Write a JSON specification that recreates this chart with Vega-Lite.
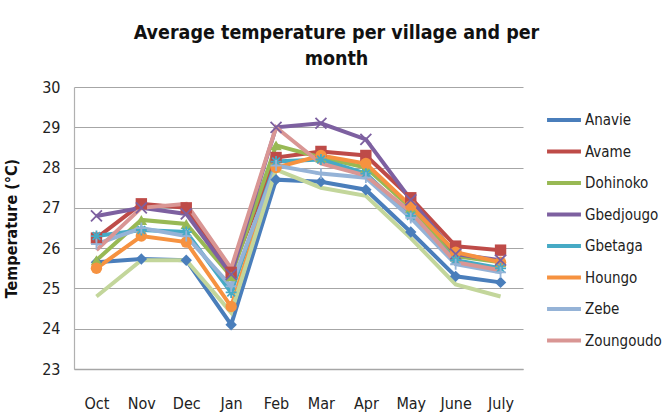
{
  "$schema": "https://vega.github.io/schema/vega-lite/v6.json",
  "autosize": {"type": "none"},
  "width": 449,
  "height": 282,
  "padding": {"left": 74, "top": 87, "right": 147, "bottom": 49},
  "background": "white",
  "title": {
    "text": ["Average temperature per village and per", "month"],
    "font": "DejaVu Sans Condensed, sans-serif",
    "fontSize": 19.5,
    "fontWeight": "bold",
    "color": "#111111",
    "lineHeight": 26,
    "anchor": "middle",
    "baseline": "bottom",
    "offset": -9,
    "dx": 38
  },
  "config": {
    "view": {"stroke": null},
    "font": "DejaVu Sans Condensed, sans-serif"
  },
  "data": {
    "values": [
      {"m":"Oct","v":"Anavie","t":25.65},{"m":"Nov","v":"Anavie","t":25.73},{"m":"Dec","v":"Anavie","t":25.7},{"m":"Jan","v":"Anavie","t":24.1},{"m":"Feb","v":"Anavie","t":27.7},{"m":"Mar","v":"Anavie","t":27.65},{"m":"Apr","v":"Anavie","t":27.45},{"m":"May","v":"Anavie","t":26.4},{"m":"June","v":"Anavie","t":25.3},{"m":"July","v":"Anavie","t":25.15},
      {"m":"Oct","v":"Avame","t":26.25},{"m":"Nov","v":"Avame","t":27.1},{"m":"Dec","v":"Avame","t":27.0},{"m":"Jan","v":"Avame","t":25.4},{"m":"Feb","v":"Avame","t":28.25},{"m":"Mar","v":"Avame","t":28.4},{"m":"Apr","v":"Avame","t":28.3},{"m":"May","v":"Avame","t":27.25},{"m":"June","v":"Avame","t":26.05},{"m":"July","v":"Avame","t":25.95},
      {"m":"Oct","v":"Dohinoko","t":25.7},{"m":"Nov","v":"Dohinoko","t":26.7},{"m":"Dec","v":"Dohinoko","t":26.6},{"m":"Jan","v":"Dohinoko","t":25.3},{"m":"Feb","v":"Dohinoko","t":28.55},{"m":"Mar","v":"Dohinoko","t":28.25},{"m":"Apr","v":"Dohinoko","t":28.0},{"m":"May","v":"Dohinoko","t":27.0},{"m":"June","v":"Dohinoko","t":25.8},{"m":"July","v":"Dohinoko","t":25.65},
      {"m":"Oct","v":"Gbedjougo","t":26.8},{"m":"Nov","v":"Gbedjougo","t":27.0},{"m":"Dec","v":"Gbedjougo","t":26.85},{"m":"Jan","v":"Gbedjougo","t":25.35},{"m":"Feb","v":"Gbedjougo","t":29.0},{"m":"Mar","v":"Gbedjougo","t":29.1},{"m":"Apr","v":"Gbedjougo","t":28.7},{"m":"May","v":"Gbedjougo","t":27.2},{"m":"June","v":"Gbedjougo","t":25.85},{"m":"July","v":"Gbedjougo","t":25.7},
      {"m":"Oct","v":"Gbetaga","t":26.3},{"m":"Nov","v":"Gbetaga","t":26.45},{"m":"Dec","v":"Gbetaga","t":26.4},{"m":"Jan","v":"Gbetaga","t":24.9},{"m":"Feb","v":"Gbetaga","t":28.15},{"m":"Mar","v":"Gbetaga","t":28.2},{"m":"Apr","v":"Gbetaga","t":27.85},{"m":"May","v":"Gbetaga","t":26.8},{"m":"June","v":"Gbetaga","t":25.7},{"m":"July","v":"Gbetaga","t":25.5},
      {"m":"Oct","v":"Houngo","t":25.5},{"m":"Nov","v":"Houngo","t":26.3},{"m":"Dec","v":"Houngo","t":26.15},{"m":"Jan","v":"Houngo","t":24.55},{"m":"Feb","v":"Houngo","t":28.0},{"m":"Mar","v":"Houngo","t":28.3},{"m":"Apr","v":"Houngo","t":28.1},{"m":"May","v":"Houngo","t":27.05},{"m":"June","v":"Houngo","t":25.9},{"m":"July","v":"Houngo","t":25.65},
      {"m":"Oct","v":"Zebe","t":26.1},{"m":"Nov","v":"Zebe","t":26.5},{"m":"Dec","v":"Zebe","t":26.3},{"m":"Jan","v":"Zebe","t":25.05},{"m":"Feb","v":"Zebe","t":28.05},{"m":"Mar","v":"Zebe","t":27.85},{"m":"Apr","v":"Zebe","t":27.75},{"m":"May","v":"Zebe","t":26.75},{"m":"June","v":"Zebe","t":25.6},{"m":"July","v":"Zebe","t":25.4},
      {"m":"Oct","v":"Zoungoudo","t":25.95},{"m":"Nov","v":"Zoungoudo","t":27.0},{"m":"Dec","v":"Zoungoudo","t":27.1},{"m":"Jan","v":"Zoungoudo","t":25.5},{"m":"Feb","v":"Zoungoudo","t":29.0},{"m":"Mar","v":"Zoungoudo","t":28.1},{"m":"Apr","v":"Zoungoudo","t":27.8},{"m":"May","v":"Zoungoudo","t":26.9},{"m":"June","v":"Zoungoudo","t":25.65},{"m":"July","v":"Zoungoudo","t":25.45},
      {"m":"Oct","v":"Series 9","t":24.8},{"m":"Nov","v":"Series 9","t":25.7},{"m":"Dec","v":"Series 9","t":25.7},{"m":"Jan","v":"Series 9","t":24.4},{"m":"Feb","v":"Series 9","t":27.95},{"m":"Mar","v":"Series 9","t":27.5},{"m":"Apr","v":"Series 9","t":27.3},{"m":"May","v":"Series 9","t":26.25},{"m":"June","v":"Series 9","t":25.1},{"m":"July","v":"Series 9","t":24.8}
    ]
  },
  "encoding": {
    "x": {
      "field": "m", "type": "nominal", "sort": null,
      "scale": {"type": "point", "padding": 0.5,
        "domain": ["Oct","Nov","Dec","Jan","Feb","Mar","Apr","May","June","July"]},
      "axis": {"title": null, "labelAngle": 0, "labelFontSize": 16, "labelColor": "#222222",
        "labelPadding": 26, "ticks": false, "domainColor": "#a6a6a6", "domainWidth": 1.5, "grid": false}
    },
    "y": {
      "field": "t", "type": "quantitative",
      "scale": {"domain": [23, 30], "zero": false, "nice": false},
      "axis": {"title": "Temperature (°C)", "titleFontSize": 16, "titleFontWeight": "bold", "titleColor": "#111111",
        "titlePadding": 22, "values": [23,24,25,26,27,28,29,30], "labelFontSize": 16, "labelColor": "#222222",
        "labelPadding": 14, "ticks": false, "grid": true, "gridColor": "#a6a6a6", "gridWidth": 1.2,
        "domainColor": "#b0b0b0", "domainWidth": 1.2}
    },
    "color": {
      "field": "v", "type": "nominal",
      "scale": {
        "domain": ["Anavie","Avame","Dohinoko","Gbedjougo","Gbetaga","Houngo","Zebe","Zoungoudo","Series 9"],
        "range": ["#4A7EBB","#BE4B48","#98B954","#7D60A0","#46AAC5","#F69240","#95B3D7","#D99694","#C3D69B"]
      },
      "legend": {
        "title": null, "orient": "none", "legendX": 471, "legendY": 14,
        "values": ["Anavie","Avame","Dohinoko","Gbedjougo","Gbetaga","Houngo","Zebe","Zoungoudo"],
        "symbolType": "stroke", "symbolSize": 1150, "symbolStrokeWidth": 4,
        "labelFontSize": 15, "labelColor": "#222222", "labelOffset": 2, "rowPadding": 4.5, "labelLimit": 200
      }
    }
  },
  "layer": [
    {
      "mark": {"type": "line", "strokeWidth": 4},
      "encoding": {"detail": {"field": "v"}}
    },
    {
      "transform": [{"filter": {"field": "v", "oneOf": ["Anavie","Avame","Dohinoko","Houngo"]}}],
      "mark": {"type": "point", "filled": true, "opacity": 1},
      "encoding": {
        "shape": {
          "field": "v", "type": "nominal", "legend": null,
          "scale": {"domain": ["Anavie","Avame","Dohinoko","Houngo"], "range": ["diamond","square","triangle-up","circle"]}
        },
        "size": {"value": 130}
      }
    },
    {
      "transform": [{"filter": {"field": "v", "oneOf": ["Gbedjougo","Gbetaga","Zebe"]}}],
      "mark": {"type": "point", "filled": false, "opacity": 1, "strokeWidth": 1.8},
      "encoding": {
        "shape": {
          "field": "v", "type": "nominal", "legend": null,
          "scale": {"domain": ["Gbedjougo","Gbetaga","Zebe"],
            "range": ["M-1,-1L1,1M1,-1L-1,1", "M-1,0L1,0M0,-1L0,1M-0.7,-0.7L0.7,0.7M0.7,-0.7L-0.7,0.7", "M-1,0L1,0M0,-1L0,1"]}
        },
        "size": {"value": 120}
      }
    }
  ],
  "resolve": {"scale": {"shape": "independent"}}
}
